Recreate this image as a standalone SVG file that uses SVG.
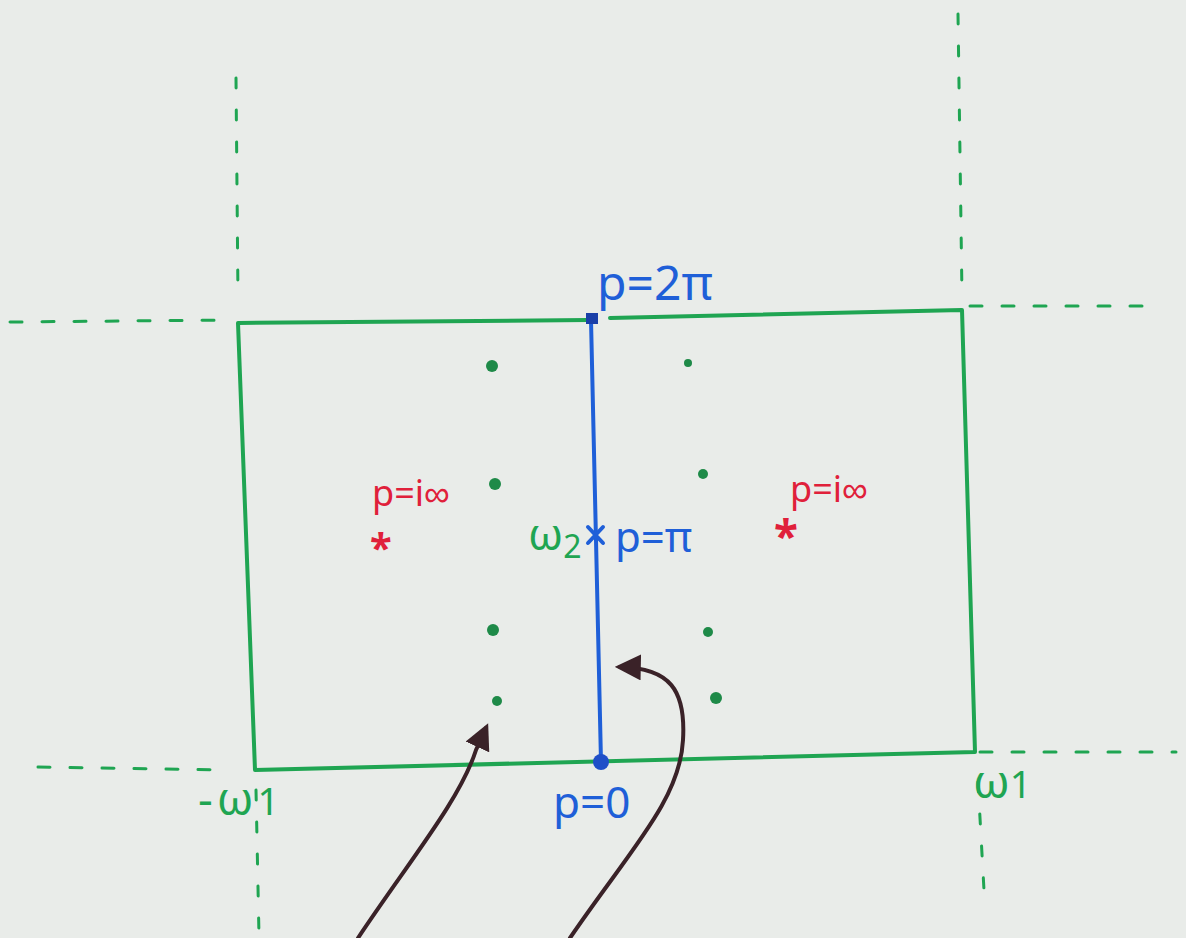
<svg xmlns="http://www.w3.org/2000/svg" width="1186" height="938" viewBox="0 0 1186 938">
<defs>
<style>
.g{stroke:#1fa552;fill:none;stroke-width:4;stroke-linecap:round;stroke-linejoin:round}
.gd{stroke:#1fa552;fill:none;stroke-width:3;stroke-linecap:round;stroke-dasharray:12 20}
.gdv{stroke:#1fa552;fill:none;stroke-width:3;stroke-linecap:round;stroke-dasharray:10 22}
.dot{fill:#1e8a48}
.b{stroke:#1f5fd8;fill:none;stroke-width:4;stroke-linecap:round}
.bt{fill:#1f5fd8;font-family:"Noto Sans","Liberation Sans",sans-serif}
.rt{fill:#e0203a;font-family:"Noto Sans","Liberation Sans",sans-serif}
.gt{fill:#1fa552;font-family:"Noto Sans","Liberation Sans",sans-serif}
.arr{stroke:#3a2228;fill:none;stroke-width:4;stroke-linecap:round}
</style>
<marker id="ah2" viewBox="0 0 10 10" refX="8" refY="5" markerWidth="26" markerHeight="26" orient="auto" markerUnits="userSpaceOnUse">
<path d="M0,0 L10,5 L0,10 z" fill="#3a2228"/>
</marker>
</defs>
<rect width="1186" height="938" fill="#e9ece9"/>

<g id="grid-dashed">
<path class="gd" d="M10,322 L232,320"/>
<path class="gdv" d="M236,78 L238,298"/>
<path class="gdv" d="M256,790 L259,936"/>
<path class="gd" d="M38,767 L228,770"/>
<path class="gdv" d="M958,14 L962,296"/>
<path class="gd" d="M970,306 L1158,306"/>
<path class="gd" d="M980,752 L1176,752"/>
<path class="gdv" d="M978,782 L984,890"/>
</g>

<g id="rectangle">
<path class="g" d="M588,320 L238,323 L255,770 L975,752 L962,310 L610,318"/>
</g>

<g id="poles">
<circle class="dot" cx="492" cy="366" r="6"/>
<circle class="dot" cx="495" cy="484" r="6"/>
<circle class="dot" cx="493" cy="630" r="6"/>
<circle class="dot" cx="497" cy="701" r="5"/>
<circle class="dot" cx="688" cy="363" r="4"/>
<circle class="dot" cx="703" cy="474" r="5"/>
<circle class="dot" cx="708" cy="632" r="5"/>
<circle class="dot" cx="716" cy="698" r="6"/>
</g>

<g id="blue-path">
<path class="b" d="M591,320 L596,540 L601,762"/>
<rect x="586" y="313" width="12" height="11" fill="#1a3fa8"/>
<circle cx="601" cy="762" r="8" fill="#1f4fc8"/>
<path class="b" d="M588,527 L603,543 M603,527 L588,543"/>
</g>

<g id="labels">
<text class="bt" x="597" y="300" font-size="48">p=2π</text>
<text class="gt" x="528" y="550" font-size="44">ω<tspan font-size="32" dy="8">2</tspan></text>
<text class="bt" x="615" y="552" font-size="42">p=π</text>
<text class="rt" x="372" y="506" font-size="36">p=i∞</text>
<text class="rt" x="370" y="562" font-size="40" font-weight="bold">*</text>
<text class="rt" x="790" y="502" font-size="36">p=i∞</text>
<text class="rt" x="774" y="552" font-size="44" font-weight="bold">*</text>
<text class="gt" x="198" y="815" font-size="46" letter-spacing="4">-ω<tspan font-size="38">1</tspan></text>
<text class="bt" x="553" y="818" font-size="44">p=0</text>
<text class="gt" x="973" y="798" font-size="46">ω<tspan font-size="38">1</tspan></text>
</g>

<g id="connectors">
<path class="arr" d="M358,938 C410,860 460,800 476,750 L486,728" marker-end="url(#ah2)"/>
<path class="arr" d="M570,938 C630,850 680,800 683,740 C686,690 670,668 620,667" marker-end="url(#ah2)"/>
</g>
</svg>
